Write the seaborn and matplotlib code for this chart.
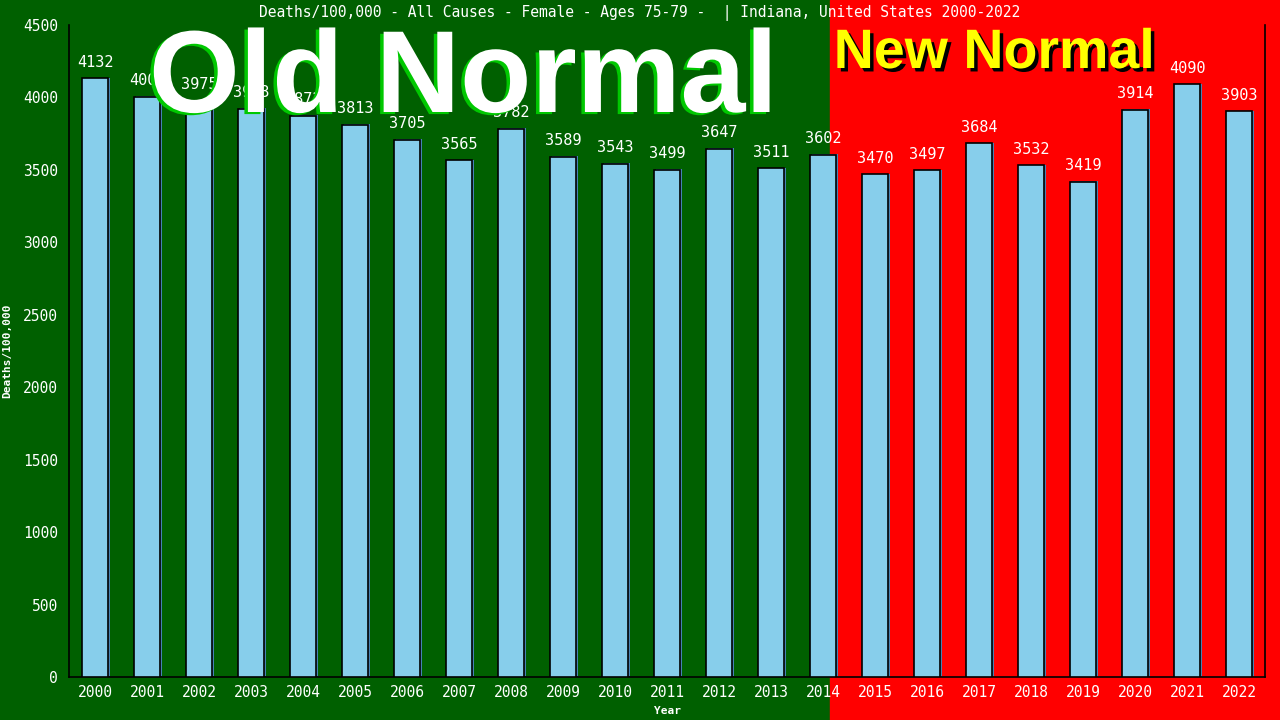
import matplotlib
matplotlib.use('Agg')
import matplotlib.pyplot as plt
import matplotlib.patheffects as pe
from matplotlib.patches import Rectangle
import seaborn as sns
import pandas as pd

years = [str(y) for y in range(2000, 2023)]
deaths = [4132, 4005, 3975, 3923, 3872, 3813, 3705, 3565, 3782, 3589, 3543, 3499,
          3647, 3511, 3602, 3470, 3497, 3684, 3532, 3419, 3914, 4090, 3903]
y_ticks = list(range(0, 4501, 500))

green = '#006000'
red = '#ff0000'
mono = 'DejaVu Sans Mono'

sns.set_style('white')
df = pd.DataFrame({'Year': years, 'Deaths': deaths})

fig = plt.figure(figsize=(12.8, 7.2), dpi=100)
# split background: old normal (green) / new normal (red)
split = 830 / 1280
fig.patches.append(Rectangle((0, 0), split, 1, transform=fig.transFigure, color=green, zorder=-10))
fig.patches.append(Rectangle((split, 0), 1 - split, 1, transform=fig.transFigure, color=red, zorder=-10))

ax = fig.add_axes([69 / 1280, 43 / 720, 1196 / 1280, 652 / 720])
ax.set_facecolor('none')

sns.barplot(data=df, x='Year', y='Deaths', color='#87ceeb', width=0.5,
            edgecolor='black', linewidth=1.2, saturation=1, ax=ax, zorder=3)
for p in ax.patches:
    p.set_path_effects([pe.SimplePatchShadow(offset=(1.5, 0.5), shadow_rgbFace='#4682b4', alpha=1),
                        pe.Normal()])

for i, v in enumerate(deaths):
    ax.text(i, v + 60, str(v), ha='center', va='bottom', color='white',
            fontsize=11, family=mono, zorder=5)

ax.set_xlim(-0.5, 22.5)
ax.set_ylim(0, 4500)
ax.set_yticks(y_ticks)
ax.tick_params(axis='y', direction='inout', length=9, width=1, color='black',
               labelcolor='white', labelsize=10.5)
ax.tick_params(axis='x', length=0, labelcolor='white', labelsize=10.5, pad=6)
for lab in ax.get_xticklabels() + ax.get_yticklabels():
    lab.set_family(mono)

for side in ['left', 'bottom', 'right']:
    ax.spines[side].set_color('black')
    ax.spines[side].set_linewidth(1.2)
ax.spines['top'].set_visible(False)

ax.set_xlabel('Year', color='white', fontsize=8, fontweight='bold', family=mono, labelpad=4)
ax.set_ylabel('Deaths/100,000', color='white', fontsize=8, fontweight='bold', family=mono, labelpad=8)

fig.text(640 / 1280, 1 - 13 / 720, 'Deaths/100,000 - All Causes - Female - Ages 75-79 -  | Indiana, United States 2000-2022',
         ha='center', va='center', color='white', fontsize=10.5, family=mono)

fig.text(463 / 1280, 1 - 112 / 720, 'Old Normal', ha='center', va='baseline',
         color='white', fontsize=84, fontweight='bold', family='Liberation Sans', zorder=2,
         path_effects=[pe.SimplePatchShadow(offset=(-2.5, -1.5), shadow_rgbFace='#00c800', alpha=1), pe.Normal()])
fig.text(994 / 1280, 1 - 68 / 720, 'New Normal', ha='center', va='baseline',
         color='#ffff00', fontsize=40, fontweight='bold', family='Liberation Sans', zorder=2,
         path_effects=[pe.SimplePatchShadow(offset=(2.5, -2.5), shadow_rgbFace='black', alpha=1), pe.Normal()])

fig.savefig('out.png', dpi=100, facecolor=green)
